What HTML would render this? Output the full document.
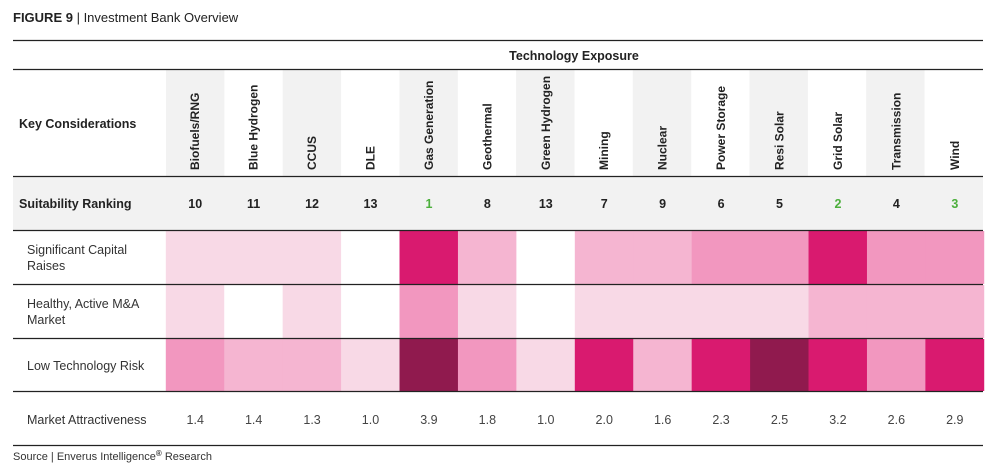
<!DOCTYPE html>
<html><head><meta charset="utf-8"><style>
body{margin:0;background:#fff;width:1000px;height:473px;overflow:hidden}
svg{display:block;font-family:"Liberation Sans",sans-serif}
</style></head><body>
<svg width="1000" height="473" viewBox="0 0 1000 473">
<text x="13" y="22" font-size="13" fill="#222"><tspan font-weight="bold">FIGURE 9</tspan> | Investment Bank Overview</text>
<g id="bg"></g>
<g fill="#f2f2f2">
<rect x="166" y="70" width="58.4" height="106"/>
<rect x="282.7" y="70" width="58.4" height="106"/>
<rect x="399.4" y="70" width="58.4" height="106"/>
<rect x="516.1" y="70" width="58.4" height="106"/>
<rect x="632.8" y="70" width="58.4" height="106"/>
<rect x="749.5" y="70" width="58.4" height="106"/>
<rect x="866.2" y="70" width="58.4" height="106"/>
<rect x="13" y="176" width="970" height="54"/>
</g>
<g id="cells"></g>
<g stroke="#222" stroke-width="1.3">
<line x1="13" y1="40.5" x2="983" y2="40.5"/>
<line x1="13" y1="69.5" x2="983" y2="69.5"/>
<line x1="13" y1="176.5" x2="983" y2="176.5"/>
<line x1="13" y1="230.5" x2="983" y2="230.5"/>
<line x1="13" y1="284.5" x2="983" y2="284.5"/>
<line x1="13" y1="338.5" x2="983" y2="338.5"/>
<line x1="13" y1="391.5" x2="983" y2="391.5"/>
<line x1="13" y1="445.5" x2="983" y2="445.5"/>
</g>
<text x="574" y="60" font-size="12.5" font-weight="bold" text-anchor="middle" fill="#222">Technology Exposure</text>
<text x="19" y="128" font-size="12.5" font-weight="bold" fill="#222">Key Considerations</text>
<text x="19" y="208" font-size="12.5" font-weight="bold" fill="#222">Suitability Ranking</text>
<g font-size="12.5" fill="#333">
<text x="27" y="254">Significant Capital</text><text x="27" y="270">Raises</text>
<text x="27" y="308">Healthy, Active M&amp;A</text><text x="27" y="324">Market</text>
<text x="27" y="370">Low Technology Risk</text>
<text x="27" y="424">Market Attractiveness</text>
</g>
<text x="13" y="460" font-size="11" fill="#333">Source | Enverus Intelligence<tspan font-size="8" dy="-4" font-weight="bold">®</tspan><tspan dy="4"> Research</tspan></text>
<g id="hdr" font-size="12" font-weight="bold" fill="#222"></g>
<g id="rank" font-size="12.5" font-weight="bold" text-anchor="middle"></g>
<g id="ma" font-size="12.5" text-anchor="middle" fill="#444"></g>
</svg>
<script>
const ns="http://www.w3.org/2000/svg";
const names=["Biofuels/RNG","Blue Hydrogen","CCUS","DLE","Gas Generation","Geothermal","Green Hydrogen","Mining","Nuclear","Power Storage","Resi Solar","Grid Solar","Transmission","Wind"];
const ranks=[10,11,12,13,1,8,13,7,9,6,5,2,4,3];
const ma=["1.4","1.4","1.3","1.0","3.9","1.8","1.0","2.0","1.6","2.3","2.5","3.2","2.6","2.9"];
const C=["#ffffff","#f8d9e6","#f5b5d1","#f297bf","#d91a6f","#901a4e"];
const rows=[[1,1,1,0,4,2,0,2,2,3,3,4,3,3],[1,0,1,0,3,1,0,1,1,1,1,2,2,2],[3,2,2,1,5,3,1,4,2,4,5,4,3,4]];
const ys=[231,285,339],hs=[53,53,52];
const w=58.43;
function el(t,a,p,txt){const e=document.createElementNS(ns,t);for(const k in a)e.setAttribute(k,a[k]);if(txt!==undefined)e.textContent=txt;document.getElementById(p).appendChild(e);}
for(let i=0;i<14;i++){const cx=166+w*i+w/2;
el("text",{transform:`translate(${cx+4},170) rotate(-90)`},"hdr",names[i]);
el("text",{x:cx,y:208,fill:[1,2,3].includes(ranks[i])?"#4caf3c":"#222"},"rank",ranks[i]);
el("text",{x:cx,y:424},"ma",ma[i]);
for(let r=0;r<3;r++){el("rect",{x:166+w*i-0.2,y:ys[r],width:w+0.4,height:hs[r],fill:C[rows[r][i]]},"cells");}
}
</script>
</body></html>
